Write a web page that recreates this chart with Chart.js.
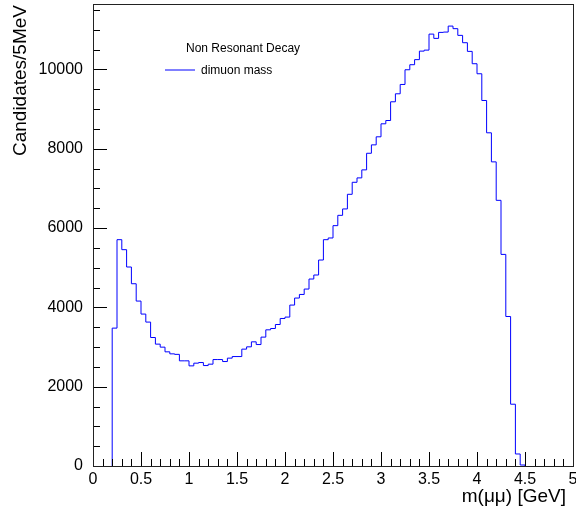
<!DOCTYPE html>
<html>
<head>
<meta charset="utf-8">
<script src="https://cdn.jsdelivr.net/npm/chart.js@4.4.0/dist/chart.umd.min.js"></script>
<style>
  html, body { margin: 0; padding: 0; background: #fff; }
  #plot { display: block; }
</style>
</head>
<body>
<canvas id="plot" width="576" height="512"></canvas>
<script>
// Dimuon invariant mass, non resonant decay (ROOT style histogram)

// Histogram binning: first filled bin starts at 0.2 GeV, 50 MeV wide
const binStart = 0.2;
const binWidth = 0.05;

// Bin contents, from 0.20 GeV up to 4.50 GeV
const counts = [
    3477, 5707, 5455, 5018, 4596, 4159, 3831, 3629, 3240, 3073,
    2997, 2879, 2828, 2815, 2652, 2652, 2525, 2593, 2609, 2533,
    2568, 2684, 2684, 2634, 2720, 2760, 2760, 2947, 3005, 3131,
    3063, 3250, 3434, 3467, 3568, 3720, 3755, 4058, 4235, 4326,
    4462, 4715, 4816, 5194, 5707, 5750, 6061, 6321, 6482, 6851,
    7154, 7265, 7467, 7886, 8098, 8301, 8629, 8712, 9184, 9386,
    9621, 9992, 10119, 10247, 10462, 10487, 10891, 10783, 10934, 10942,
    11093, 11028, 10859, 10674, 10455, 10144, 9891, 9217, 8402, 7669,
    6699, 5336, 3770, 1558, 303, 25
];

const xTicks = [0, 0.5, 1, 1.5, 2, 2.5, 3, 3.5, 4, 4.5, 5];
const yTicks = [0, 2000, 4000, 6000, 8000, 10000];
const xMinorStep = 0.1;
const yMinorStep = 500;

const seriesLabel = 'dimuon mass';
const legendHeader = 'Non Resonant Decay';
const xTitle = 'm(\u03bc\u03bc) [GeV]';
const yTitle = 'Candidates/5MeV';

const FONT = "'Liberation Sans', Helvetica, Arial, sans-serif";

// Turn bin contents into step points; each point sits on a bin's low edge,
// stepped 'before' keeps that value until the next edge
function histPoints() {
    const pts = [{ x: binStart, y: 0 }];
    counts.forEach((c, i) => {
        pts.push({ x: binStart + i * binWidth, y: c });
    });
    pts.push({ x: binStart + counts.length * binWidth, y: 0 });
    return pts;
}

// Frame, inside ticks, axis titles and legend box like ROOT draws them
const rootDecor = {
    id: 'rootDecor',
    afterDraw(chart) {
        const { ctx, chartArea: a, scales: { x, y } } = chart;
        ctx.save();

        // ticks along the bottom axis
        ctx.strokeStyle = '#000';
        ctx.lineWidth = 1;
        ctx.beginPath();
        for (let i = 0; i <= 50; i++) {
            const v = i * xMinorStep;
            const px = Math.round(x.getPixelForValue(v)) + 0.5;
            const len = (i % 5 === 0) ? 14 : 7;
            ctx.moveTo(px, a.bottom);
            ctx.lineTo(px, a.bottom - len);
        }
        // ticks along the left axis
        for (let v = 0; v <= y.max; v += yMinorStep) {
            const py = Math.round(y.getPixelForValue(v)) + 0.5;
            const len = (v % 2000 === 0) ? 14 : 7;
            ctx.moveTo(a.left, py);
            ctx.lineTo(a.left + len, py);
        }
        ctx.stroke();

        // frame
        ctx.strokeStyle = '#222';
        ctx.strokeRect(a.left + 0.5, a.top + 0.5, a.right - a.left, a.bottom - a.top);

        // axis titles
        ctx.fillStyle = '#000';
        ctx.font = '19px ' + FONT;
        ctx.textAlign = 'right';
        ctx.textBaseline = 'middle';
        ctx.fillText(xTitle, 566, 497);

        ctx.save();
        ctx.translate(21, a.top + 1);
        ctx.rotate(-Math.PI / 2);
        ctx.textAlign = 'right';
        ctx.textBaseline = 'middle';
        ctx.fillText(yTitle, 0, 0);
        ctx.restore();

        // legend
        ctx.font = '12px ' + FONT;
        ctx.textAlign = 'left';
        ctx.textBaseline = 'middle';
        ctx.fillText(legendHeader, 186, 49);
        ctx.strokeStyle = '#0000ff';
        ctx.beginPath();
        ctx.moveTo(165, 70);
        ctx.lineTo(195, 70);
        ctx.stroke();
        ctx.fillText(seriesLabel, 201, 70.5);

        ctx.restore();
    }
};

const chart = new Chart(document.getElementById('plot'), {
    type: 'line',
    data: {
        datasets: [{
            label: seriesLabel,
            data: histPoints(),
            stepped: 'before',
            borderColor: '#0000ff',
            borderWidth: 1,
            pointRadius: 0,
            fill: false,
            tension: 0
        }]
    },
    options: {
        responsive: false,
        animation: false,
        layout: { padding: { top: 4, right: 3, left: 0, bottom: 0 } },
        plugins: {
            legend: { display: false },
            tooltip: { enabled: false }
        },
        scales: {
            x: {
                type: 'linear',
                min: 0,
                max: 5,
                afterBuildTicks: s => { s.ticks = xTicks.map(v => ({ value: v })); },
                afterFit: s => {
                    s.height = 46;
                    s.paddingLeft = 0;
                    s.paddingRight = 0;
                },
                ticks: {
                    color: '#000',
                    font: { family: FONT, size: 16 },
                    padding: 4,
                    maxRotation: 0,
                    autoSkip: false,
                    callback: v => String(v)
                },
                grid: { display: false, drawTicks: false },
                border: { display: false }
            },
            y: {
                type: 'linear',
                min: 0,
                max: 11650,
                afterBuildTicks: s => { s.ticks = yTicks.map(v => ({ value: v })); },
                afterFit: s => {
                    s.width = 93;
                    s.paddingTop = 0;
                    s.paddingBottom = 0;
                },
                ticks: {
                    color: '#000',
                    font: { family: FONT, size: 16 },
                    padding: 10,
                    autoSkip: false,
                    callback: v => String(v)
                },
                grid: { display: false, drawTicks: false },
                border: { display: false }
            }
        }
    },
    plugins: [rootDecor]
});
</script>
</body>
</html>
